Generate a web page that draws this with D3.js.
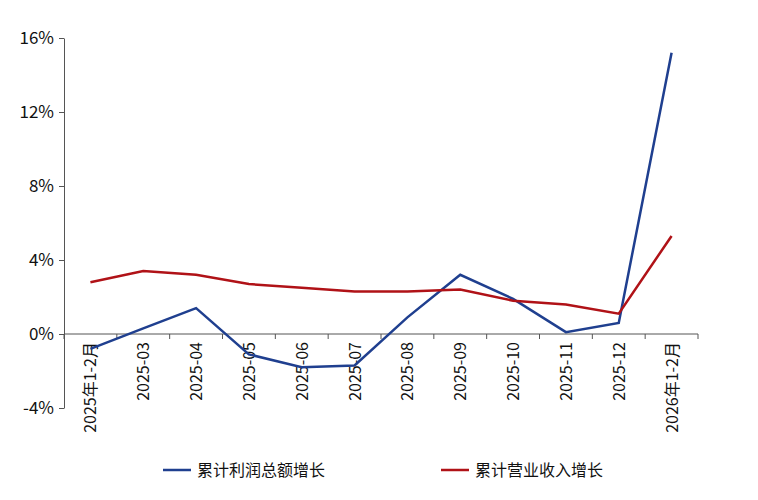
<!DOCTYPE html><html><head><meta charset="utf-8">
<script src="https://cdn.jsdelivr.net/npm/d3@7"></script>
<style>body{margin:0;background:#fff}text{font-family:"Noto Sans CJK SC","Noto Sans",sans-serif;fill:#111}</style></head><body>
<svg id="c" width="758" height="500"></svg>
<script>
const categories=["2025年1-2月","2025-03","2025-04","2025-05","2025-06","2025-07","2025-08","2025-09","2025-10","2025-11","2025-12","2026年1-2月"];
const profit=[-0.8,0.3,1.4,-1.1,-1.8,-1.7,0.9,3.2,1.9,0.1,0.6,15.2];
const revenue=[2.8,3.4,3.2,2.7,2.5,2.3,2.3,2.4,1.8,1.6,1.1,5.3];
const yTicks=[-4,0,4,8,12,16];
const seriesNames=["累计利润总额增长","累计营业收入增长"];
const colors=["#1f3f8f","#b01217"];
const svg=d3.select("#c");
const x=d3.scalePoint().domain(categories).range([64,698]).padding(0.5);
const y=d3.scaleLinear().domain([-4,16]).range([408,38]);
const ya=svg.append("g").attr("transform","translate(64,0)").call(d3.axisLeft(y).tickValues(yTicks).tickFormat(d=>d+"%").tickSize(5).tickSizeOuter(0));
ya.select(".domain").attr("stroke","#555");ya.selectAll("line").attr("stroke","#555");
ya.selectAll("text").style("font-size","17px").attr("dx","-2");
const step=x.step();
svg.append("line").attr("x1",64).attr("x2",698).attr("y1",y(0)).attr("y2",y(0)).attr("stroke","#555");
svg.selectAll(".bt").data(d3.range(categories.length+1)).enter().append("line")
 .attr("x1",i=>64+i*step).attr("x2",i=>64+i*step).attr("y1",y(0)).attr("y2",y(0)+5).attr("stroke","#555");
svg.selectAll(".cl").data(categories).enter().append("text")
 .attr("transform",d=>`translate(${x(d)+6},${y(0)+8}) rotate(-90)`).attr("text-anchor","end").style("font-size","16px").text(d=>d);
const line=d3.line().x((d,i)=>x(categories[i])).y(d=>y(d));
[profit,revenue].forEach((s,k)=>svg.append("path").datum(s).attr("d",line).attr("fill","none").attr("stroke",colors[k]).attr("stroke-width",2.5));
[[163,seriesNames[0]],[441,seriesNames[1]]].forEach(([lx,t],k)=>{
 svg.append("line").attr("x1",lx).attr("x2",lx+28).attr("y1",470).attr("y2",470).attr("stroke",colors[k]).attr("stroke-width",2.5);
 svg.append("text").attr("x",lx+34).attr("y",476).style("font-size","16px").text(t);});
</script></body></html>
